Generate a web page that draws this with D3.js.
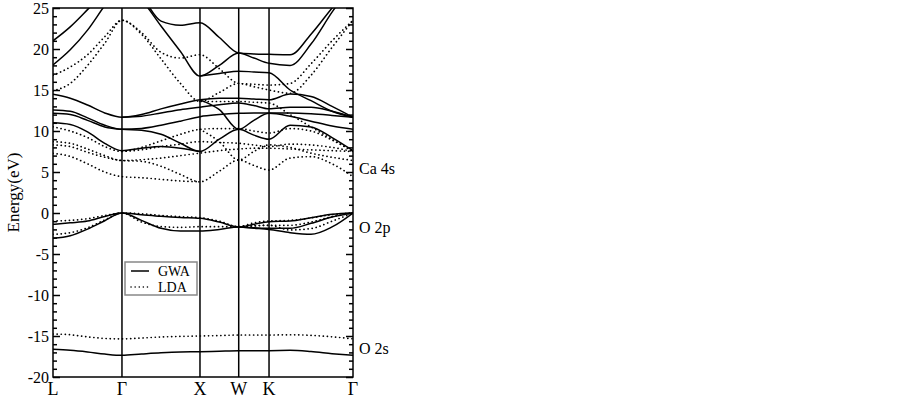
<!DOCTYPE html>
<html>
<head>
<meta charset="utf-8">
<script src="https://cdn.jsdelivr.net/npm/d3@7"></script>
<style>
  body { margin: 0; background: #fff; }
  text { font-family: "Liberation Serif", "Times New Roman", serif; fill: #000; }
</style>
</head>
<body>
<div id="chart"></div>
<script>
// high-symmetry points along the path (units of 2pi/a)
const kLabels = ["L", "Γ", "X", "W", "K", "Γ"];
const kLabelPos = [0, 0.869, 1.852, 2.340, 2.722, 3.78];

// sample points where the band energies were read
const kGrid = [0, 0.217, 0.435, 0.652, 0.869,
               1.115, 1.361, 1.606, 1.852,
               2.096, 2.340,
               2.531, 2.722,
               2.987, 3.251, 3.516, 3.78];

const _ = null;

// GWA bands (eV), one value per kGrid point
const gwaValence = [
  [-1.38, -1.2, -0.98, -0.42, 0, -0.2, -0.4, -0.55, -0.65, -1.1, -1.7, -1.38, -1.06, -0.98, -0.57, -0.16, 0],
  [_, _, _, _, _, _, _, _, _, _, -1.7, -1.8, -1.87, -1.87, -1.26, -0.49, 0],
  [-3.09, -2.77, -1.96, -0.94, 0, -0.9, -1.87, -2.2, -2.2, -2.0, -1.7, -1.85, -2.0, -2.4, -2.6, -1.7, 0]
];
const gwaSemicore = [
  [-16.63, -16.75, -16.95, -17.2, -17.36, -17.2, -17.05, -16.95, -16.92, -16.85, -16.79, -16.79, -16.79, -16.75, -16.9, -17.15, -17.36]
];
const gwaConduction = [
  [21.0, 22.7, 24.8, 27.0, 29.0, 26.5, 23.4, 22.9, 23.2, 21.4, 19.5, 19.4, 19.35, 19.3, 21.8, 25.0, 28.0],
  [18.05, 19.9, 22.3, 25.3, 28.0, 26.0, 22.8, 19.7, 16.7, 18.0, 19.5, 18.9, 18.25, 18.0, 20.6, 24.5, 28.0],
  [14.47, 14.0, 13.17, 12.2, 11.67, 12.0, 12.7, 13.3, 13.8, 14.0, 14.0, 13.9, 13.8, 14.5, 14.2, 13.0, 11.67],
  [_, _, _, _, _, _, _, _, 16.7, 17.0, 17.3, 17.2, 17.1, 15.0, 13.7, 12.4, 11.67],
  [12.56, 12.4, 11.6, 10.7, 10.2, 10.3, 10.7, 11.2, 11.75, 12.0, 12.15, 12.2, 12.2, 12.2, 12.1, 11.9, 11.67],
  [12.15, 12.0, 11.3, 10.5, 10.2, 10.1, 9.6, 8.5, 7.5, 9.0, 10.2, 9.5, 9.0, 10.7, 10.5, 9.2, 7.6],
  [11.0, 10.8, 9.9, 8.5, 7.6, 7.9, 8.1, 7.9, 7.5, _, _, _, _, _, _, _, _],
  [_, _, _, _, 11.67, 11.8, 12.2, 12.6, 12.9, 13.2, 13.4, 13.1, 12.7, 12.9, 12.9, 12.4, 11.67],
  [_, _, _, _, _, _, _, _, 13.8, 12.6, 10.2, 11.3, 12.15, 11.8, 11.2, 10.6, 10.2]
];

// LDA bands (eV)
const ldaValence = [
  [-0.98, -0.9, -0.7, -0.3, 0, -0.1, -0.3, -0.45, -0.57, -1.0, -1.67, -1.2, -0.98, -0.9, -0.6, -0.2, 0],
  [-2.6, -2.4, -1.8, -0.85, 0, -1.1, -1.65, -1.75, -1.67, -1.67, -1.67, -1.58, -1.5, -2.07, -1.9, -1.0, 0],
  [_, _, _, _, _, _, _, _, _, _, -1.67, -1.55, -1.5, -1.5, -1.1, -0.45, 0]
];
const ldaSemicore = [
  [-14.76, -14.85, -15.1, -15.3, -15.35, -15.25, -15.12, -15.05, -15.0, -14.95, -14.88, -14.88, -14.88, -14.85, -14.92, -15.1, -15.35]
];
const ldaConduction = [
  [16.8, 17.8, 19.3, 21.5, 23.5, 22.0, 19.6, 18.9, 19.3, 17.6, 15.8, 15.7, 15.6, 15.8, 18.2, 21.0, 23.5],
  [14.9, 15.8, 18.0, 20.7, 23.5, 21.8, 18.8, 15.8, 13.6, 14.7, 15.8, 15.4, 15.0, 14.6, 16.8, 20.2, 23.5],
  [10.5, 10.0, 9.2, 8.1, 7.5, 8.0, 8.8, 9.6, 10.2, 10.3, 10.3, 10.0, 9.75, 10.3, 10.0, 8.9, 7.5],
  [_, _, _, _, _, _, _, _, 13.6, 13.6, 13.6, 13.5, 13.4, 12.0, 10.5, 9.0, 7.5],
  [8.7, 8.5, 7.8, 7.0, 6.4, 6.5, 6.7, 7.0, 7.3, 7.6, 7.8, 7.9, 7.9, 7.8, 7.7, 7.6, 7.5],
  [8.3, 8.1, 7.4, 6.8, 6.4, 6.3, 5.7, 4.7, 3.8, 5.1, 6.46, 5.8, 5.24, 6.7, 6.87, 6.0, 4.43],
  [7.28, 6.9, 6.0, 5.0, 4.43, 4.3, 4.1, 3.9, 3.8, _, _, _, _, _, _, _, _],
  [_, _, _, _, 7.5, 7.7, 8.1, 8.4, 8.7, 8.6, 8.5, 8.3, 8.1, 8.4, 8.3, 8.0, 7.5],
  [_, _, _, _, _, _, _, _, 10.2, 8.7, 6.46, 7.5, 8.3, 8.0, 7.3, 6.8, 6.4]
];

const levelLabels = ["Ca 4s", "O 2p", "O 2s"];
const levelEnergy = [5.5, -1.7, -16.5];

const legendNames = ["GWA", "LDA"];

const width = 903, height = 399;
const x = d3.scaleLinear().domain([0, 3.78]).range([53, 353]);
const y = d3.scaleLinear().domain([-20, 25]).range([377, 8]);

const svg = d3.select("#chart").append("svg")
    .attr("width", width)
    .attr("height", height)
    .style("background", "#fff");

svg.append("clipPath").attr("id", "plot-clip")
  .append("rect")
    .attr("x", x(0)).attr("y", y(25))
    .attr("width", x(3.78) - x(0)).attr("height", y(-20) - y(25));

// y axis, ticks pointing inward on both sides
const majorTicks = d3.range(-20, 26, 5);
const minorTicks = d3.range(-20, 26, 1).filter(v => v % 5 !== 0);

const leftMajor = svg.append("g")
    .attr("transform", `translate(${x(0)},0)`)
    .call(d3.axisLeft(y).tickValues(majorTicks).tickSize(-7).tickPadding(4)
      .tickFormat(d => String(d)).tickSizeOuter(0));
const leftMinor = svg.append("g")
    .attr("transform", `translate(${x(0)},0)`)
    .call(d3.axisLeft(y).tickValues(minorTicks).tickSize(-4).tickFormat("").tickSizeOuter(0));
const rightMajor = svg.append("g")
    .attr("transform", `translate(${x(3.78)},0)`)
    .call(d3.axisRight(y).tickValues(majorTicks).tickSize(-7).tickFormat("").tickSizeOuter(0));
const rightMinor = svg.append("g")
    .attr("transform", `translate(${x(3.78)},0)`)
    .call(d3.axisRight(y).tickValues(minorTicks).tickSize(-4).tickFormat("").tickSizeOuter(0));

[leftMajor, leftMinor, rightMajor, rightMinor].forEach(g => {
  g.select(".domain").remove();
  g.selectAll(".tick line").attr("stroke", "#000").attr("stroke-width", 1.5);
});
leftMajor.selectAll(".tick text")
    .style("font-family", "'Liberation Serif', serif")
    .style("font-size", "16px")
    .attr("fill", "#000");

// vertical lines at the high-symmetry points
svg.append("g")
  .selectAll("line")
  .data(kLabelPos.slice(1, -1))
  .join("line")
    .attr("x1", d => x(d)).attr("x2", d => x(d))
    .attr("y1", y(25)).attr("y2", y(-20))
    .attr("stroke", "#000")
    .attr("stroke-width", 1.5);

// bands
const line = d3.line()
    .defined(d => d.e !== null)
    .x(d => x(d.k))
    .y(d => y(d.e))
    .curve(d3.curveMonotoneX);

const toPoints = band => band.map((e, i) => ({ k: kGrid[i], e: e }));

const bandLayer = svg.append("g").attr("clip-path", "url(#plot-clip)");

const ldaAll = [...ldaValence, ...ldaSemicore, ...ldaConduction];
const gwaAll = [...gwaValence, ...gwaSemicore, ...gwaConduction];

bandLayer.append("g")
  .selectAll("path")
  .data(ldaAll)
  .join("path")
    .attr("class", "lda")
    .attr("d", d => line(toPoints(d)))
    .attr("fill", "none")
    .attr("stroke", "#000")
    .attr("stroke-width", 1.7)
    .attr("stroke-linecap", "round")
    .attr("stroke-dasharray", "0.1,4");

bandLayer.append("g")
  .selectAll("path")
  .data(gwaAll)
  .join("path")
    .attr("class", "gwa")
    .attr("d", d => line(toPoints(d)))
    .attr("fill", "none")
    .attr("stroke", "#000")
    .attr("stroke-width", 1.5);

// frame
svg.append("rect")
    .attr("x", x(0)).attr("y", y(25))
    .attr("width", x(3.78) - x(0)).attr("height", y(-20) - y(25))
    .attr("fill", "none")
    .attr("stroke", "#000")
    .attr("stroke-width", 1.5);

// k-point labels
svg.append("g")
  .selectAll("text")
  .data(kLabels)
  .join("text")
    .attr("x", (d, i) => x(kLabelPos[i]))
    .attr("y", 395)
    .attr("text-anchor", "middle")
    .style("font-size", "18px")
    .text(d => d);

// axis title
svg.append("text")
    .attr("transform", `translate(19,${(y(25) + y(-20)) / 2}) rotate(-90)`)
    .attr("text-anchor", "middle")
    .style("font-size", "17px")
    .text("Energy(eV)");

// orbital character labels on the right
svg.append("g")
  .selectAll("text")
  .data(levelLabels)
  .join("text")
    .attr("x", x(3.78) + 6)
    .attr("y", (d, i) => y(levelEnergy[i]))
    .attr("dy", "0.35em")
    .style("font-size", "16px")
    .text(d => d);

// legend
const legend = svg.append("g").attr("transform", "translate(125,262)");
legend.append("rect")
    .attr("width", 72).attr("height", 33)
    .attr("fill", "#fff")
    .attr("stroke", "#888")
    .attr("stroke-width", 1.5);
legend.selectAll("line")
  .data(legendNames)
  .join("line")
    .attr("x1", 6).attr("x2", 24)
    .attr("y1", (d, i) => 9 + i * 16).attr("y2", (d, i) => 9 + i * 16)
    .attr("stroke", "#000")
    .attr("stroke-width", 1.5)
    .attr("stroke-linecap", (d, i) => i === 1 ? "round" : "butt")
    .attr("stroke-dasharray", (d, i) => i === 1 ? "0.1,4" : null);
legend.selectAll("text")
  .data(legendNames)
  .join("text")
    .attr("x", 33)
    .attr("y", (d, i) => 9 + i * 16)
    .attr("dy", "0.35em")
    .style("font-size", "14px")
    .text(d => d);
</script>
</body>
</html>
